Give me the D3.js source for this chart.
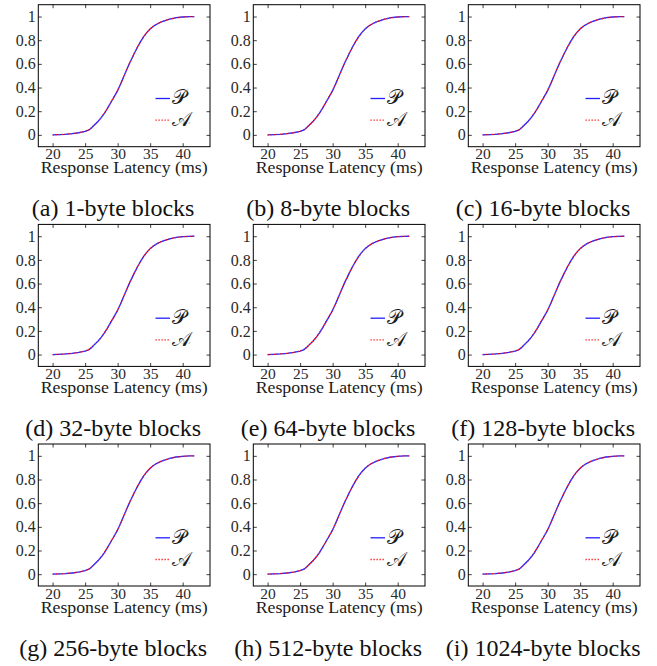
<!DOCTYPE html>
<html>
<head>
	<meta charset="utf-8">
	<title>latency cdf grid</title>
	<script src="https://cdn.jsdelivr.net/npm/d3@7/dist/d3.min.js"></script>
</head>
<body style="margin:0;background:#fff">
	<script type="text/javascript">
		// values (all nine panels look the same at this size)
		var latencyMs = [20, 21, 22, 23, 24, 25, 25.6, 26, 26.5, 27, 27.5, 28, 28.5, 29, 29.5, 30, 30.5, 31, 31.5, 32, 32.5, 33, 33.5, 34, 34.5, 35, 35.5, 36, 36.5, 37, 38, 39, 40, 41, 41.8];
		var cdfP = [0, 0.002, 0.005, 0.01, 0.018, 0.03, 0.042, 0.06, 0.088, 0.115, 0.147, 0.185, 0.23, 0.278, 0.325, 0.374, 0.436, 0.5, 0.565, 0.625, 0.682, 0.736, 0.786, 0.83, 0.866, 0.895, 0.918, 0.935, 0.949, 0.96, 0.978, 0.99, 0.996, 0.999, 1];
		var cdfA = [0, 0.002, 0.006, 0.01, 0.017, 0.03, 0.043, 0.061, 0.087, 0.113, 0.148, 0.187, 0.231, 0.28, 0.327, 0.376, 0.434, 0.498, 0.566, 0.627, 0.684, 0.737, 0.785, 0.828, 0.865, 0.896, 0.919, 0.936, 0.95, 0.961, 0.978, 0.989, 0.996, 0.999, 1];
		var panelLabels = ["(a) 1-byte blocks", "(b) 8-byte blocks", "(c) 16-byte blocks",
			"(d) 32-byte blocks", "(e) 64-byte blocks", "(f) 128-byte blocks",
			"(g) 256-byte blocks", "(h) 512-byte blocks", "(i) 1024-byte blocks"];
		var xTicks = [20, 25, 30, 35, 40];
		var yTicks = [0, 0.2, 0.4, 0.6, 0.8, 1];
		var legendNames = ["\u{1D4AB}", "\u{1D49C}"];

		var W = 657, H = 666;
		var colLeft = [38.3, 253.3, 468.3];
		var rowTop = [4.7, 224.4, 444];
		var boxW = 171.7, boxH = 142;
		var serif = "'Liberation Serif', 'Times New Roman'";

		var svg = d3.select("body").append("svg")
			.attr("width", W).attr("height", H);

		var x = d3.scaleLinear().domain([17.8, 44.2]).range([0, boxW]);
		var y = d3.scaleLinear().domain([-0.1, 1.1]).range([boxH, 0]);

		var ptsP = latencyMs.map(function(d, i) { return [d, cdfP[i]]; });
		var ptsA = latencyMs.map(function(d, i) { return [d, cdfA[i]]; });
		var line = d3.line().x(function(d) { return x(d[0]); }).y(function(d) { return y(d[1]); });

		panelLabels.forEach(function(label, k) {
			var g = svg.append("g")
				.attr("transform", "translate(" + colLeft[k % 3] + "," + rowTop[Math.floor(k / 3)] + ")");

			// inward ticks on all four sides
			var tickStyle = function(a) {
				a.select(".domain").remove();
				a.selectAll(".tick line").attr("stroke", "#111").attr("stroke-width", 0.8);
			};
			g.append("g").attr("transform", "translate(0," + boxH + ")")
				.call(d3.axisBottom(x).tickValues(xTicks).tickSizeInner(-3.5).tickPadding(4).tickFormat(d3.format("d")))
				.call(tickStyle)
				.selectAll("text")
				.style("font-family", serif).style("font-size", "15.5px").style("fill", "#2a2a2a")
				.attr("dy", "0.71em").attr("y", 1.5);
			g.append("g")
				.call(d3.axisTop(x).tickValues(xTicks).tickSizeInner(-3.5).tickFormat(""))
				.call(tickStyle);
			g.append("g")
				.call(d3.axisLeft(y).tickValues(yTicks).tickSizeInner(-3.5).tickPadding(3).tickFormat(d3.format("~g")))
				.call(tickStyle)
				.selectAll("text")
				.style("font-family", serif).style("font-size", "16px").style("fill", "#2a2a2a")
				.attr("x", -2.5);
			g.append("g").attr("transform", "translate(" + boxW + ",0)")
				.call(d3.axisRight(y).tickValues(yTicks).tickSizeInner(-3.5).tickFormat(""))
				.call(tickStyle);

			g.append("path").datum(ptsP)
				.attr("fill", "none").attr("stroke", "#2020ff").attr("stroke-width", 1.3)
				.attr("d", line);
			g.append("path").datum(ptsA)
				.attr("fill", "none").attr("stroke", "#ff1a1a").attr("stroke-width", 1.3)
				.attr("stroke-dasharray", "1.3,1.7")
				.attr("d", line);

			g.append("rect").attr("width", boxW).attr("height", boxH)
				.attr("fill", "none").attr("stroke", "#000").attr("stroke-width", 1);

			// legend, no frame
			var lg = g.append("g").attr("transform", "translate(" + (boxW - 54.5) + ",0)");
			[93.8, 115.5].forEach(function(ly, i) {
				lg.append("line").attr("x1", 0).attr("x2", 14.5).attr("y1", ly).attr("y2", ly)
					.attr("stroke", i === 0 ? "#2020ff" : "#ff1a1a").attr("stroke-width", 1.3)
					.attr("stroke-dasharray", i === 0 ? null : "1.3,1.7");
				lg.append("text").attr("x", 16).attr("y", ly + 6)
					.style("font-family", serif).style("font-size", "20px").style("fill", "#1a1a1a")
					.text(legendNames[i]);
			});

			g.append("text").attr("x", boxW / 2).attr("y", 168.5)
				.attr("text-anchor", "middle")
				.style("font-family", serif).style("font-size", "16.5px").style("fill", "#1a1a1a")
				.attr("textLength", 167).attr("lengthAdjust", "spacingAndGlyphs")
				.text("Response Latency (ms)");

			g.append("text").attr("x", boxW / 2 - 11).attr("y", 211.5)
				.attr("text-anchor", "middle")
				.style("font-family", serif).style("font-size", "24px").style("fill", "#111")
				.text(label);
		});
	</script>
</body>
</html>
